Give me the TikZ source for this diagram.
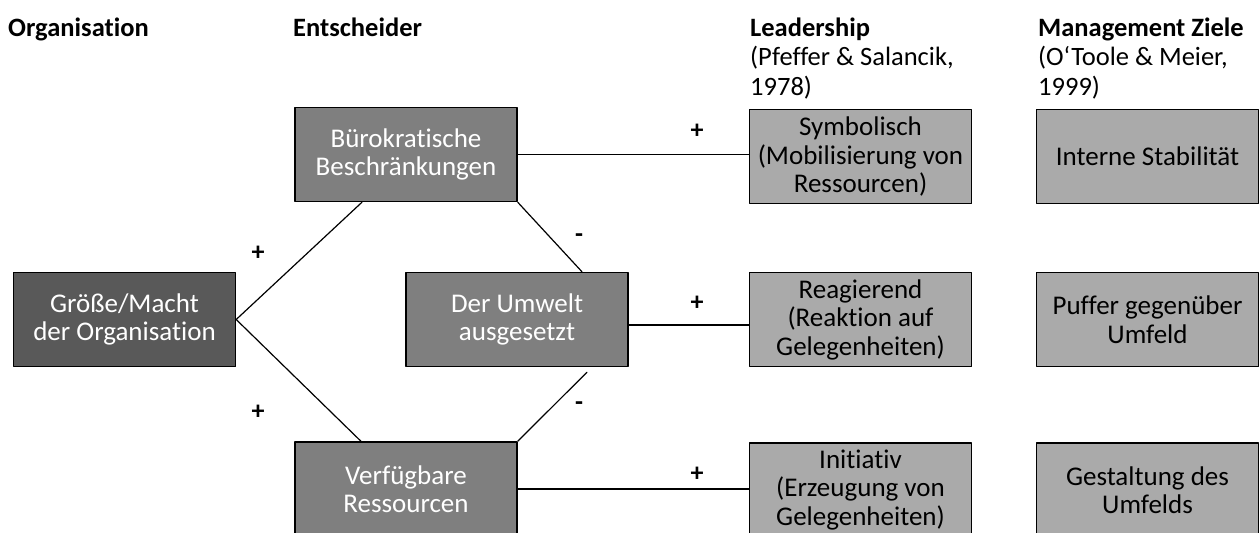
\documentclass[tikz,border=0pt]{standalone}
\usepackage{fontspec}
\setmainfont{Carlito}[Ligatures=NoCommon]
\usepackage{xcolor}
\usepackage{tikz}
\usetikzlibrary{calc,positioning}

\definecolor{darkgr}{HTML}{595959}
\definecolor{midgr}{HTML}{7F7F7F}
\definecolor{lightgr}{HTML}{AAAAAA}

\tikzset{
  box/.style={draw=black,line width=1.4pt,minimum width=222pt,minimum height=94pt,
    inner sep=0pt,align=center,font=\fontsize{27}{28.5}\selectfont},
  darkbox/.style={box,fill=darkgr,text=white},
  midbox/.style={box,fill=midgr,text=white},
  lightbox/.style={box,fill=lightgr,text=black},
  head/.style={anchor=base west,inner sep=0pt,align=left,font=\fontsize{26.5}{29.5}\selectfont},
  sign/.style={inner sep=0pt,font=\fontsize{26}{28}\selectfont\bfseries},
  link/.style={draw=black,line width=1.2pt}
}

\begin{document}
\begin{tikzpicture}[x=1pt,y=-1pt,line cap=round,line join=round]
\useasboundingbox (0,0) rectangle (1259,533);
\clip (0,0) rectangle (1259,533);
% headings (base = last line)
\node [head] (hOrg) at (8,36) {\textbf{Organisation}};
\node [head] (hEnt) at (293,36) {\textbf{Entscheider}};
\node [head] (hLead) at (750,95) {\textbf{Leadership}\\(Pfeffer \& Salancik,\\1978)};
\node [head] (hMan) at (1038,95) {\textbf{Management Ziele}\\(O‘Toole \& Meier,\\1999)};
% boxes
\node [darkbox] (groesse) at (124.5,319.5) {Größe/Macht\\der Organisation};
\node [midbox] (buero) at (406,154.5) {Bürokratische\\Beschränkungen};
\node [midbox] (umwelt) at (517,319.5) {Der Umwelt\\ausgesetzt};
\node [midbox] (verf) at (406,489) {Verfügbare\\Ressourcen};
\node [lightbox] (symb) at (860.5,156.5) {Symbolisch\\(Mobilisierung von\\Ressourcen)};
\node [lightbox] (reag) at (860.5,319.5) {Reagierend\\(Reaktion auf\\Gelegenheiten)};
\node [lightbox] (init) at (860.5,490) {Initiativ\\(Erzeugung von\\Gelegenheiten)};
\node [lightbox] (stab) at (1147.5,156.5) {Interne Stabilität};
\node [lightbox] (puffer) at (1147.5,319.5) {Puffer gegenüber\\Umfeld};
\node [lightbox] (gest) at (1147.5,490) {Gestaltung des\\Umfelds};
% connectors
\draw [link] (groesse.east) -- ($(buero.south)+(-44,0)$);
\draw [link] (groesse.east) -- ($(verf.north)+(-45,0)$);
\draw [link] (buero.south east) -- ($(umwelt.north)+(65,0)$);
\draw [link] ($(umwelt.south)+(70,5)$) -- (verf.north east);
\coordinate (uo) at ($(umwelt.east)+(0,5.5)$);
\draw [link] (buero.east) -- (buero.east -| symb.west);
\draw [link] (uo) -- (uo -| reag.west);
\draw [link] (verf.east) -- (verf.east -| init.west);
% signs
\node [sign] (p1) at (258,253) {+};
\node [sign] (p2) at (258,412) {+};
\node [sign] (m1) at (579,238) {-};
\node [sign] (m2) at (579,406) {-};
\node [sign] (p3) at (697,131) {+};
\node [sign] (p4) at (697,303) {+};
\node [sign] (p5) at (697,474) {+};
\end{tikzpicture}
\end{document}
